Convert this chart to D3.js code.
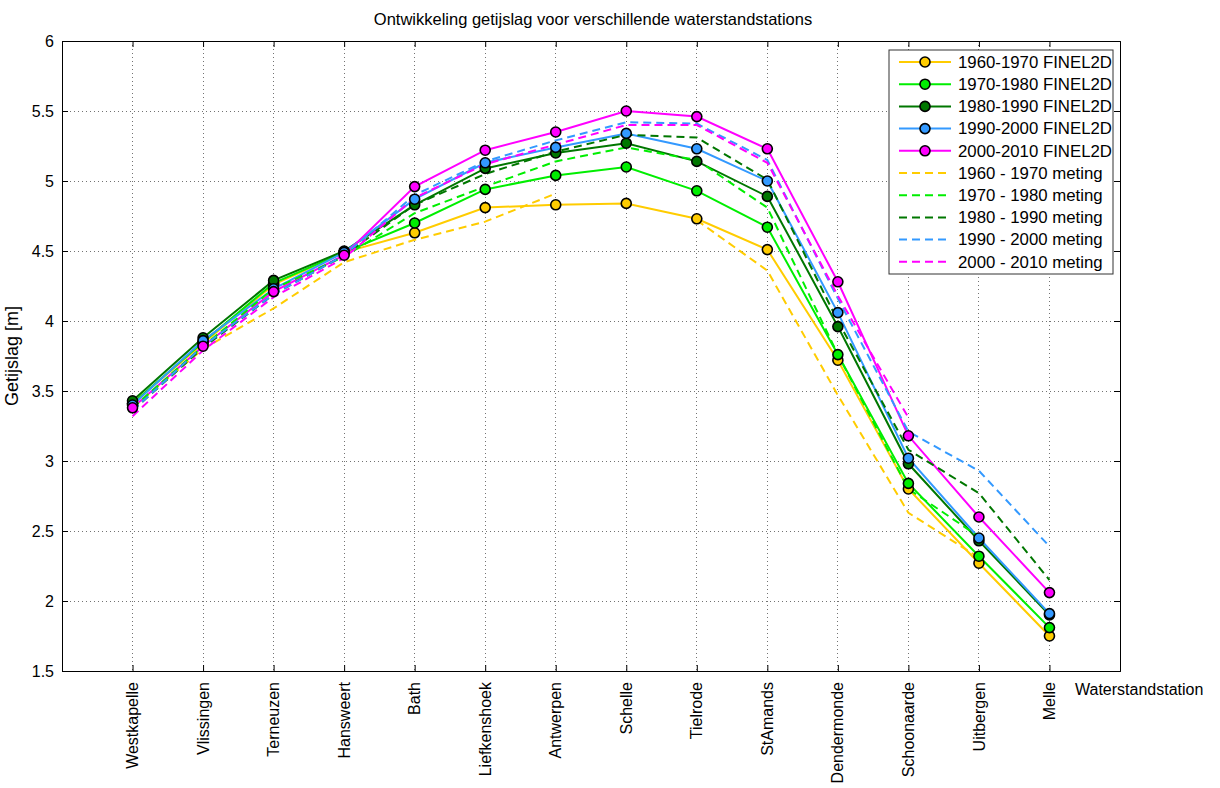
<!DOCTYPE html>
<html>
  <head>
    <meta http-equiv="Content-Type" content="text/html;charset=utf-8"/>
    <style type="text/css">

body {
  margin: 0;
  background: #fff;
}

svg {
  font-family: "Liberation Sans", Arial, sans-serif;
}

.grid line {
  stroke: #000;
  stroke-opacity: .55;
  stroke-dasharray: 1,3;
  shape-rendering: crispEdges;
}

.series path {
  fill: none;
  stroke-width: 2px;
}

.series circle {
  stroke: #000;
  stroke-width: 1.6px;
}

    </style>
  </head>
  <body>
    <svg></svg>

    <script type="text/javascript" src="https://cdn.jsdelivr.net/npm/d3@7"></script>

    <script type="text/javascript">

var stations = ["Westkapelle", "Vlissingen", "Terneuzen", "Hansweert", "Bath", "Liefkenshoek",
                "Antwerpen", "Schelle", "Tielrode", "StAmands", "Dendermonde", "Schoonaarde",
                "Uitbergen", "Melle"];

var yTicks = [1.5, 2, 2.5, 3, 3.5, 4, 4.5, 5, 5.5, 6];

// FINEL2D model results
var finel1960 = [3.41, 3.84, 4.26, 4.49, 4.63, 4.81, 4.83, 4.84, 4.73, 4.51, 3.72, 2.80, 2.27, 1.75];
var finel1970 = [3.41, 3.85, 4.27, 4.49, 4.70, 4.94, 5.04, 5.10, 4.93, 4.67, 3.76, 2.84, 2.32, 1.81];
var finel1980 = [3.43, 3.88, 4.29, 4.50, 4.83, 5.09, 5.20, 5.27, 5.14, 4.89, 3.96, 2.98, 2.43, 1.90];
var finel1990 = [3.40, 3.86, 4.23, 4.49, 4.87, 5.13, 5.24, 5.34, 5.23, 5.00, 4.06, 3.02, 2.45, 1.91];
var finel2000 = [3.38, 3.82, 4.21, 4.47, 4.96, 5.22, 5.35, 5.50, 5.46, 5.23, 4.28, 3.18, 2.60, 2.06];

// measurements (null = no data)
var meting1960 = [3.38, 3.80, 4.09, 4.42, 4.58, 4.71, 4.91, null, 4.72, 4.36, 3.47, 2.63, 2.31, null];
var meting1970 = [3.38, 3.82, 4.23, 4.46, 4.77, 4.96, 5.14, 5.24, 5.15, 4.81, 3.76, 2.80, 2.46, null];
var meting1980 = [3.36, 3.81, 4.19, 4.47, 4.83, 5.05, 5.21, 5.33, 5.31, 5.01, 4.00, 3.08, 2.77, 2.15];
var meting1990 = [3.36, 3.82, 4.19, 4.47, 4.90, 5.14, 5.29, 5.42, 5.41, 5.15, 4.16, 3.21, 2.93, 2.39];
var meting2000 = [3.32, 3.79, 4.17, 4.45, 4.88, 5.12, 5.26, 5.40, 5.40, 5.13, 4.18, 3.31, null, null];

var colors = ["#ffcc00", "#00ee00", "#007700", "#3399ff", "#ff00ff"];

var series = [
  {name: "1960-1970 FINEL2D", vals: finel1960, c: colors[0], dash: false},
  {name: "1970-1980 FINEL2D", vals: finel1970, c: colors[1], dash: false},
  {name: "1980-1990 FINEL2D", vals: finel1980, c: colors[2], dash: false},
  {name: "1990-2000 FINEL2D", vals: finel1990, c: colors[3], dash: false},
  {name: "2000-2010 FINEL2D", vals: finel2000, c: colors[4], dash: false},
  {name: "1960 - 1970 meting", vals: meting1960, c: colors[0], dash: true},
  {name: "1970 - 1980 meting", vals: meting1970, c: colors[1], dash: true},
  {name: "1980 - 1990 meting", vals: meting1980, c: colors[2], dash: true},
  {name: "1990 - 2000 meting", vals: meting1990, c: colors[3], dash: true},
  {name: "2000 - 2010 meting", vals: meting2000, c: colors[4], dash: true}
];

var W = 1220, H = 788;
var m = {top: 41, right: 100, bottom: 117, left: 62};
var w = W - m.left - m.right,
    h = H - m.top - m.bottom;

var svg_c = d3.select("svg")
    .attr("width", W)
    .attr("height", H);

var svg = svg_c.append("g")
    .attr("transform", "translate(" + m.left + "," + m.top + ")");

var x = d3.scaleLinear().domain([0, stations.length + 1]).range([0, w]);
var y = d3.scaleLinear().domain([1.5, 6]).range([h, 0]);

// grid
var grid = svg.append("g").attr("class", "grid");
grid.selectAll(".gx")
    .data(stations)
  .enter().append("line")
    .attr("x1", (d, i) => x(i + 1)).attr("x2", (d, i) => x(i + 1))
    .attr("y1", 0).attr("y2", h);
grid.selectAll(".gy")
    .data(yTicks.slice(1, -1))
  .enter().append("line")
    .attr("x1", 0).attr("x2", w)
    .attr("y1", d => y(d)).attr("y2", d => y(d));

// axes (inward ticks on all sides)
var tickIdx = stations.map((d, i) => i + 1);
svg.append("g")
    .attr("transform", "translate(0," + h + ")")
    .call(d3.axisBottom(x).tickValues(tickIdx).tickSize(-6).tickFormat(""));
svg.append("g")
    .call(d3.axisTop(x).tickValues(tickIdx).tickSize(-6).tickFormat(""));
svg.append("g")
    .call(d3.axisLeft(y).tickValues(yTicks).tickSize(-6).tickPadding(8).tickFormat(d3.format("")));
svg.append("g")
    .attr("transform", "translate(" + w + ",0)")
    .call(d3.axisRight(y).tickValues(yTicks).tickSize(-6).tickFormat(""));

svg.selectAll(".domain").attr("stroke", "#000");
svg.selectAll(".tick line").attr("stroke", "#000");
svg.selectAll(".tick text").attr("font-size", "16px").attr("fill", "#000")
    .attr("font-family", "\"Liberation Sans\", Arial, sans-serif");

// station labels, rotated
svg.append("g").selectAll("text")
    .data(stations)
  .enter().append("text")
    .attr("transform", (d, i) => "translate(" + x(i + 1) + "," + (h + 11) + ") rotate(-90)")
    .attr("text-anchor", "end")
    .attr("dy", "0.35em")
    .attr("font-size", "16px")
    .text(d => d);

svg.append("text")
    .attr("x", w - 45)
    .attr("y", h + 24)
    .attr("font-size", "16px")
    .text("Waterstandstation");

svg.append("text")
    .attr("transform", "translate(-44," + (h / 2) + ") rotate(-90)")
    .attr("text-anchor", "middle")
    .attr("font-size", "18px")
    .text("Getijslag [m]");

svg.append("text")
    .attr("x", w / 2 + 2)
    .attr("y", -16)
    .attr("text-anchor", "middle")
    .attr("font-size", "16.5px")
    .text("Ontwikkeling getijslag voor verschillende waterstandstations");

// lines
var line = d3.line()
    .defined(d => d != null)
    .x((d, i) => x(i + 1))
    .y(d => y(d));

var plot = svg.append("g").attr("class", "series");

series.forEach(function (s) {
  plot.append("path")
      .attr("d", line(s.vals))
      .attr("stroke", s.c)
      .attr("stroke-dasharray", s.dash ? "8,5" : null);
});

series.filter(s => !s.dash).forEach(function (s) {
  plot.selectAll(null)
      .data(s.vals)
    .enter().append("circle")
      .attr("cx", (d, i) => x(i + 1))
      .attr("cy", d => y(d))
      .attr("r", 5)
      .attr("fill", s.c);
});

// legend
var lg = svg.append("g")
    .attr("class", "series")
    .attr("transform", "translate(" + (w - 231) + ",9)");

lg.append("rect")
    .attr("width", 224).attr("height", 224)
    .attr("fill", "#fff").attr("stroke", "#333");

var items = lg.selectAll("g.item")
    .data(series)
  .enter().append("g")
    .attr("transform", (d, i) => "translate(0," + (12 + i * 22.2) + ")");

items.append("path")
    .attr("d", "M10,0H62")
    .attr("stroke", d => d.c)
    .attr("stroke-dasharray", d => d.dash ? "8,5" : null);

items.filter(d => !d.dash).append("circle")
    .attr("cx", 36).attr("r", 5)
    .attr("fill", d => d.c);

items.append("text")
    .attr("x", 69)
    .attr("dy", "0.35em")
    .attr("font-size", "16.8px")
    .text(d => d.name);

    </script>
  </body>
</html>
